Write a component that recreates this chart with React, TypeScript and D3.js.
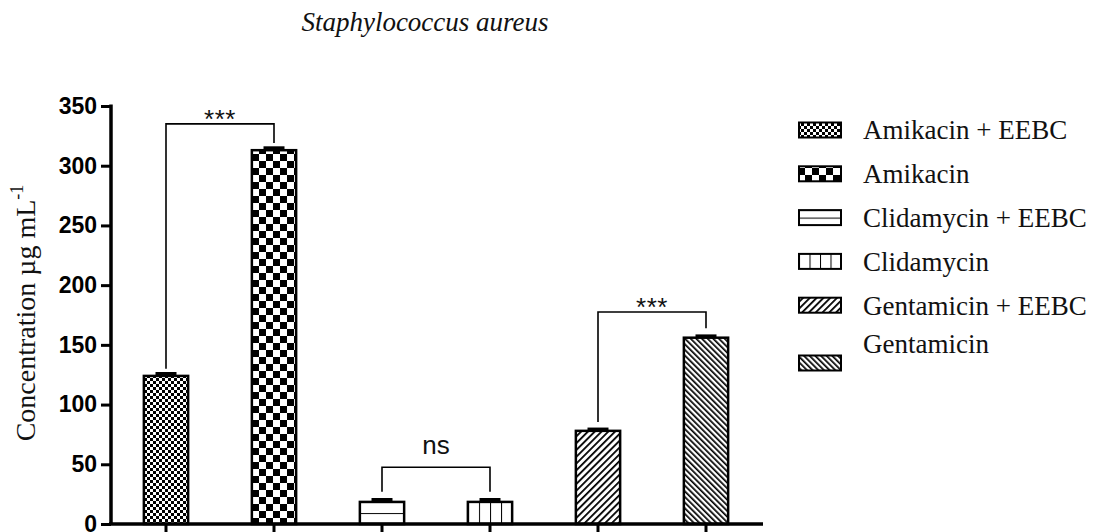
import { useEffect, useRef } from "react";
import * as d3 from "d3";

// Staphylococcus aureus – MIC values
const categories = [
  "Amikacin + EEBC",
  "Amikacin",
  "Clidamycin + EEBC",
  "Clidamycin",
  "Gentamicin + EEBC",
  "Gentamicin",
];
const means = [124, 313, 18.5, 18.5, 78, 156];
const errors = [2, 2, 2, 2, 1.5, 1.5];
const patternIds = ["fineChecker", "checker", "hLines", "vLines", "fwdHatch", "backHatch"];
const yTicks = [0, 50, 100, 150, 200, 250, 300, 350];

// significance brackets: which bars, bracket top and arm ends (data units)
const bracketPairs = [
  [0, 1],
  [2, 3],
  [4, 5],
];
const bracketTops = [335, 47.5, 177.5];
const bracketLeftEnds = [130, 27, 85.5];
const bracketRightEnds = [319, 27, 164];
const bracketLabels = ["***", "ns", "***"];

export default function App() {
  const svgRef = useRef<SVGSVGElement>(null);

  useEffect(() => {
    if (!svgRef.current) return;
    const W = 1096;
    const H = 532;
    const svg = d3.select(svgRef.current);
    svg.selectAll("*").remove();
    svg.attr("width", W).attr("height", H);

    const x = d3.scaleBand().domain(categories).range([112, 760]).paddingInner(0.59).paddingOuter(0.295);
    const y = d3.scaleLinear().domain([0, 350]).range([524, 106]);

    // fill patterns
    const defs = svg.append("defs");
    const fine = defs.append("pattern").attr("id", "fineChecker").attr("patternUnits", "userSpaceOnUse").attr("width", 6).attr("height", 6);
    fine.append("rect").attr("width", 6).attr("height", 6).attr("fill", "#fff");
    fine.append("rect").attr("width", 3).attr("height", 3).attr("fill", "#000");
    fine.append("rect").attr("x", 3).attr("y", 3).attr("width", 3).attr("height", 3).attr("fill", "#000");

    const chk = defs.append("pattern").attr("id", "checker").attr("patternUnits", "userSpaceOnUse").attr("width", 14).attr("height", 14);
    chk.append("rect").attr("width", 14).attr("height", 14).attr("fill", "#fff");
    chk.append("rect").attr("width", 7).attr("height", 7).attr("fill", "#000");
    chk.append("rect").attr("x", 7).attr("y", 7).attr("width", 7).attr("height", 7).attr("fill", "#000");

    const hl = defs.append("pattern").attr("id", "hLines").attr("patternUnits", "objectBoundingBox").attr("width", 1).attr("height", 0.5);
    hl.append("rect").attr("width", 200).attr("height", 200).attr("fill", "#fff");
    hl.append("rect").attr("y", -1).attr("width", 200).attr("height", 2).attr("fill", "#000");

    const vl = defs.append("pattern").attr("id", "vLines").attr("patternUnits", "objectBoundingBox").attr("width", 0.25).attr("height", 1);
    vl.append("rect").attr("width", 200).attr("height", 400).attr("fill", "#fff");
    vl.append("rect").attr("x", -1).attr("width", 2).attr("height", 400).attr("fill", "#000");

    const fwd = defs.append("pattern").attr("id", "fwdHatch").attr("patternUnits", "userSpaceOnUse")
      .attr("width", 4.8).attr("height", 10).attr("patternTransform", "rotate(45)");
    fwd.append("rect").attr("width", 4.8).attr("height", 10).attr("fill", "#fff");
    fwd.append("rect").attr("width", 1.8).attr("height", 10).attr("fill", "#000");

    const back = defs.append("pattern").attr("id", "backHatch").attr("patternUnits", "userSpaceOnUse")
      .attr("width", 4).attr("height", 10).attr("patternTransform", "rotate(-45)");
    back.append("rect").attr("width", 4).attr("height", 10).attr("fill", "#fff");
    back.append("rect").attr("width", 1.7).attr("height", 10).attr("fill", "#000");

    svg.append("rect").attr("width", W).attr("height", H).attr("fill", "#fff");

    // title
    svg.append("text")
      .attr("x", 425)
      .attr("y", 31)
      .attr("text-anchor", "middle")
      .attr("font-family", "'Liberation Serif', 'Times New Roman', serif")
      .attr("font-style", "italic")
      .attr("font-size", 27)
      .attr("fill", "#111")
      .text("Staphylococcus aureus");

    // bars
    svg.selectAll(".bar")
      .data(categories)
      .join("rect")
      .attr("class", "bar")
      .attr("x", (d) => x(d)!)
      .attr("width", x.bandwidth())
      .attr("y", (d, i) => y(means[i]))
      .attr("height", (d, i) => y(0) - y(means[i]))
      .attr("fill", (d, i) => `url(#${patternIds[i]})`)
      .attr("stroke", "#000")
      .attr("stroke-width", 2.5);

    // error bars (cap only visible above bar)
    const cx = (d: string) => x(d)! + x.bandwidth() / 2;
    svg.selectAll(".err")
      .data(categories)
      .join("line")
      .attr("class", "err")
      .attr("x1", cx)
      .attr("x2", cx)
      .attr("y1", (d, i) => y(means[i]))
      .attr("y2", (d, i) => y(means[i] + errors[i]))
      .attr("stroke", "#000")
      .attr("stroke-width", 2);
    svg.selectAll(".cap")
      .data(categories)
      .join("line")
      .attr("class", "cap")
      .attr("x1", (d) => cx(d) - 10.5)
      .attr("x2", (d) => cx(d) + 10.5)
      .attr("y1", (d, i) => y(means[i] + errors[i]))
      .attr("y2", (d, i) => y(means[i] + errors[i]))
      .attr("stroke", "#000")
      .attr("stroke-width", 3);

    // y axis
    const yAxis = svg.append("g").attr("transform", "translate(111,0)")
      .call(d3.axisLeft(y).tickValues(yTicks).tickSize(10).tickPadding(4).tickSizeOuter(0));
    yAxis.select(".domain").attr("stroke", "#000").attr("stroke-width", 3.5).attr("d", `M0,${y(350) - 1.5}V${y(0)}`);
    yAxis.selectAll(".tick line").attr("stroke", "#000").attr("stroke-width", 3);
    yAxis.selectAll(".tick text")
      .attr("font-family", "'Liberation Sans', Arial, sans-serif")
      .attr("font-weight", 700)
      .attr("font-size", 23)
      .attr("fill", "#000");

    // x axis
    const xAxis = svg.append("g").attr("transform", `translate(0,${y(0)})`)
      .call(d3.axisBottom(x).tickSize(10).tickFormat(() => "").tickSizeOuter(0));
    xAxis.select(".domain").attr("stroke", "#000").attr("stroke-width", 3.5).attr("d", "M109,0H763");
    xAxis.selectAll(".tick line").attr("stroke", "#000").attr("stroke-width", 3);

    // y axis title
    const yLabel = svg.append("text")
      .attr("transform", `translate(35,313) rotate(-90)`)
      .attr("text-anchor", "middle")
      .attr("font-family", "'Liberation Serif', 'Times New Roman', serif")
      .attr("font-size", 28)
      .attr("fill", "#111");
    yLabel.append("tspan").text("Concentration µg mL");
    yLabel.append("tspan").attr("dy", -12).attr("font-size", 18).text("-1");

    // significance brackets
    bracketPairs.forEach(([a, b], k) => {
      const x1 = cx(categories[a]);
      const x2 = cx(categories[b]);
      const top = y(bracketTops[k]);
      svg.append("path")
        .attr("d", `M${x1},${y(bracketLeftEnds[k])}V${top}H${x2}V${y(bracketRightEnds[k])}`)
        .attr("fill", "none")
        .attr("stroke", "#000")
        .attr("stroke-width", 1.6);
      const isNs = bracketLabels[k] === "ns";
      svg.append("text")
        .attr("x", (x1 + x2) / 2)
        .attr("y", isNs ? top - 13 : top + 4)
        .attr("text-anchor", "middle")
        .attr("font-family", "'Liberation Sans', Arial, sans-serif")
        .attr("font-size", isNs ? 26 : 26)
        .attr("letter-spacing", isNs ? 0 : 0.5)
        .attr("fill", "#111")
        .text(bracketLabels[k]);
    });

    // legend
    const legend = svg.append("g");
    categories.forEach((c, i) => {
      const rowY = 130 + i * 43.8;
      const last = i === categories.length - 1;
      const boxY = last ? rowY + 14 : rowY;
      const textY = last ? rowY - 5 : rowY;
      legend.append("rect")
        .attr("x", 799)
        .attr("y", boxY - 7.5)
        .attr("width", 42)
        .attr("height", 15)
        .attr("fill", `url(#${patternIds[i]})`)
        .attr("stroke", "#000")
        .attr("stroke-width", 2);
      legend.append("text")
        .attr("x", 863)
        .attr("y", textY)
        .attr("dy", "0.35em")
        .attr("font-family", "'Liberation Serif', 'Times New Roman', serif")
        .attr("font-size", 27)
        .attr("fill", "#111")
        .text(c);
    });
  }, []);

  return (
    <svg
      ref={svgRef}
      width={1096}
      height={532}
      style={{ position: "absolute", left: 0, top: 0, display: "block" }}
    />
  );
}
